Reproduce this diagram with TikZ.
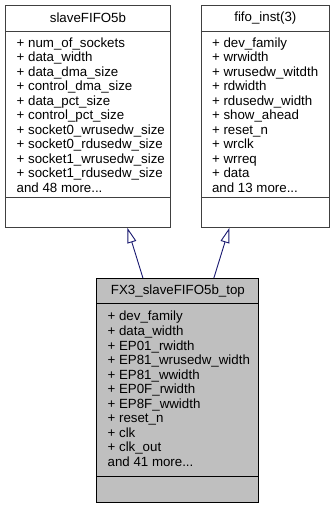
\documentclass[tikz,border=0pt]{standalone}
\usepackage{fontspec}
\setmainfont{Liberation Sans}
\usetikzlibrary{positioning,arrows.meta}

\definecolor{edgeblue}{HTML}{191970}
\definecolor{boxgray}{HTML}{BFBFBF}

\begin{document}
\begin{tikzpicture}[
    x=1pt, y=-1pt,
    node distance=30pt and 30pt,
    font=\fontsize{13.3}{14.55}\selectfont,
    classbox/.style={draw=black!75, line width=0.9pt, fill=white, inner sep=0pt,
        minimum width=#1, minimum height=222pt},
    mainbox/.style={classbox=#1, draw=black, fill=boxgray, minimum height=224pt},
    sepline/.style={draw=black!75, line width=0.9pt},
    titletext/.style={inner sep=0pt},
    % base anchor sits on the last line
    memberlist/.style={inner sep=0pt, align=left, anchor=base west},
    inherit/.style={draw=edgeblue, line width=0.9pt,
        -{Triangle[open, length=15pt, width=9pt, fill=white]}}
]
\useasboundingbox (0,0) rectangle (333,507);

% base classes
\node[classbox=165pt, anchor=north west] (base1) at (5,5) {};
\node[classbox=128pt] (base2) [right=30pt of base1] {};
% derived class
\node[mainbox=162pt] (derived) [below=50pt of base1.south east, xshift=7pt] {};

% compartments
\draw[sepline] ([yshift=-26pt]base1.north west) -- ([yshift=-26pt]base1.north east);
\draw[sepline] ([yshift=30pt]base1.south west) -- ([yshift=30pt]base1.south east);
\draw[sepline] ([yshift=-26pt]base2.north west) -- ([yshift=-26pt]base2.north east);
\draw[sepline] ([yshift=30pt]base2.south west) -- ([yshift=30pt]base2.south east);
\draw[sepline, draw=black] ([yshift=-26pt]derived.north west) -- ([yshift=-26pt]derived.north east);
\draw[sepline, draw=black] ([yshift=26pt]derived.south west) -- ([yshift=26pt]derived.south east);

% names
\node[titletext] (base1name) at ([yshift=-13pt]base1.north) {slaveFIFO5b};
\node[titletext] (base2name) at ([yshift=-13pt]base2.north) {fifo\_inst(3)};
\node[titletext] (derivedname) at ([yshift=-13pt]derived.north) {FX3\_slaveFIFO5b\_top};

% members
\node[memberlist] (base1attr) at ([xshift=11.5pt, yshift=-187.5pt]base1.north west) {%
+ num\_of\_sockets\\
+ data\_width\\
+ data\_dma\_size\\
+ control\_dma\_size\\
+ data\_pct\_size\\
+ control\_pct\_size\\
+ socket0\_wrusedw\_size\\
+ socket0\_rdusedw\_size\\
+ socket1\_wrusedw\_size\\
+ socket1\_rdusedw\_size\\
and 48 more...};
\node[memberlist] (base2attr) at ([xshift=11pt, yshift=-187.5pt]base2.north west) {%
+ dev\_family\\
+ wrwidth\\
+ wrusedw\_witdth\\
+ rdwidth\\
+ rdusedw\_width\\
+ show\_ahead\\
+ reset\_n\\
+ wrclk\\
+ wrreq\\
+ data\\
and 13 more...};
\node[memberlist] (derivedattr) at ([xshift=11pt, yshift=-188.5pt]derived.north west) {%
+ dev\_family\\
+ data\_width\\
+ EP01\_rwidth\\
+ EP81\_wrusedw\_width\\
+ EP81\_wwidth\\
+ EP0F\_rwidth\\
+ EP8F\_wwidth\\
+ reset\_n\\
+ clk\\
+ clk\_out\\
and 41 more...};

% inheritance
\draw[inherit] ([xshift=-35pt]derived.north) -- ([xshift=39.5pt]base1.south);
\draw[inherit] ([xshift=36pt]derived.north) -- ([xshift=-36pt]base2.south);
\end{tikzpicture}
\end{document}
